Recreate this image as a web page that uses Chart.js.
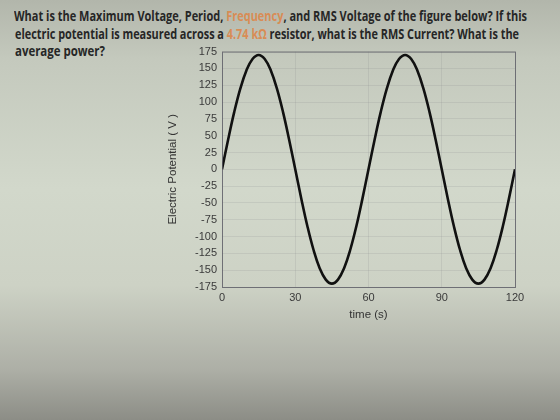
<!DOCTYPE html>
<html lang="en">
<head>
  <meta charset="UTF-8">
  <title>Electric Potential</title>
  <script src="https://cdn.jsdelivr.net/npm/chart.js"></script>
  <style>
    body {
      margin: 0;
      width: 560px;
      height: 420px;
      overflow: hidden;
      background: linear-gradient(to bottom, #b2b6ab 0%, #c4c9bd 14%, #d2d8cb 45%, #cdd2c5 68%, #adafa6 88%, #8c8d86 100%);
      font-family: "Open Sans", sans-serif;
    }
    .qline {
      position: absolute;
      left: 14px;
      font-size: 13.5px;
      font-weight: 700;
      color: #262626;
      white-space: nowrap;
      transform-origin: 0 0;
    }
    .orange {
      color: #d98c55;
    }
    .chartBox {
      position: absolute;
      left: 160px;
      top: 40px;
      width: 370px;
      height: 282px;
    }
  </style>
</head>
<body>
  <div class="qline" id="q1" data-w="513" style="top: 7px;">What is the Maximum Voltage, Period, <span class="orange">Frequency</span>, and RMS Voltage of the figure below? If this</div>
  <div class="qline" id="q2" data-w="504" style="top: 25px; left: 15px;">electric potential is measured across a <span class="orange">4.74 kΩ</span> resistor, what is the RMS Current? What is the</div>
  <div class="qline" id="q3" data-w="90" style="top: 42px; left: 15px;">average power?</div>
  <div class="chartBox">
    <canvas id="miCanvas" width="370" height="282"></canvas>
  </div>

  <script>
    // time in seconds, voltage
    const times = [0, 2.5, 5, 7.5, 10, 12.5, 15, 17.5, 20, 22.5, 25, 27.5, 30, 32.5, 35, 37.5, 40, 42.5, 45, 47.5, 50, 52.5, 55, 57.5, 60,
                   62.5, 65, 67.5, 70, 72.5, 75, 77.5, 80, 82.5, 85, 87.5, 90, 92.5, 95, 97.5, 100, 102.5, 105, 107.5, 110, 112.5, 115, 117.5, 120];
    const volts = [0, 44, 85, 120, 147, 164, 170, 164, 147, 120, 85, 44, 0, -44, -85, -120, -147, -164, -170, -164, -147, -120, -85, -44, 0,
                   44, 85, 120, 147, 164, 170, 164, 147, 120, 85, 44, 0, -44, -85, -120, -147, -164, -170, -164, -147, -120, -85, -44, 0];
    const xTicks = [0, 30, 60, 90, 120];
    const yTicks = [-175, -150, -125, -100, -75, -50, -25, 0, 25, 50, 75, 100, 125, 150, 175];

    // squeeze the question lines to the width they take in the photo
    document.querySelectorAll(".qline").forEach(el => {
      const w = el.getBoundingClientRect().width;
      el.style.transform = `scaleX(${el.dataset.w / w})`;
    });

    const points = times.map((t, i) => ({ x: t, y: volts[i] }));

    const boxPlugin = {
      id: "boxPlugin",
      afterDraw(chart) {
        const a = chart.chartArea;
        const ctx = chart.ctx;
        ctx.save();
        ctx.strokeStyle = "rgba(90,90,100,0.8)";
        ctx.lineWidth = 1;
        ctx.strokeRect(a.left + 0.5, a.top + 0.5, a.right - a.left, a.bottom - a.top);
        ctx.restore();
      }
    };

    const ctx = document.getElementById("miCanvas").getContext("2d");
    new Chart(ctx, {
      type: "line",
      data: {
        datasets: [{
          data: points,
          borderColor: "#111111",
          borderWidth: 2.6,
          pointRadius: 0,
          tension: 0.4,
          fill: false
        }]
      },
      options: {
        responsive: false,
        animation: false,
        layout: { padding: { top: 10, right: 15, left: 0, bottom: 0 } },
        plugins: { legend: { display: false }, tooltip: { enabled: false } },
        scales: {
          x: {
            type: "linear",
            min: 0,
            max: 120,
            afterBuildTicks: s => { s.ticks = xTicks.map(v => ({ value: v })); },
            afterFit: s => { s.height = 35; },
            grid: { color: "rgba(120,120,130,0.15)", drawTicks: false },
            border: { display: false },
            ticks: { color: "#3a3a3a", font: { family: "Liberation Sans", size: 11 }, padding: 4, maxRotation: 0 },
            title: { display: true, text: "time (s)", color: "#333", font: { family: "Liberation Sans", size: 11.5 }, padding: { top: 0, bottom: 0 } }
          },
          y: {
            min: -175,
            max: 175,
            afterBuildTicks: s => { s.ticks = yTicks.map(v => ({ value: v })); },
            afterFit: s => { s.width = 62; },
            grid: { color: "rgba(120,120,130,0.15)", drawTicks: false },
            border: { display: false },
            ticks: { color: "#3a3a3a", font: { family: "Liberation Sans", size: 11 }, padding: 5, autoSkip: false },
            title: { display: true, text: "Electric Potential ( V )", color: "#333", font: { family: "Liberation Sans", size: 11.5 }, padding: { top: 6, bottom: 0 } }
          }
        }
      },
      plugins: [boxPlugin]
    });
  </script>
</body>
</html>
